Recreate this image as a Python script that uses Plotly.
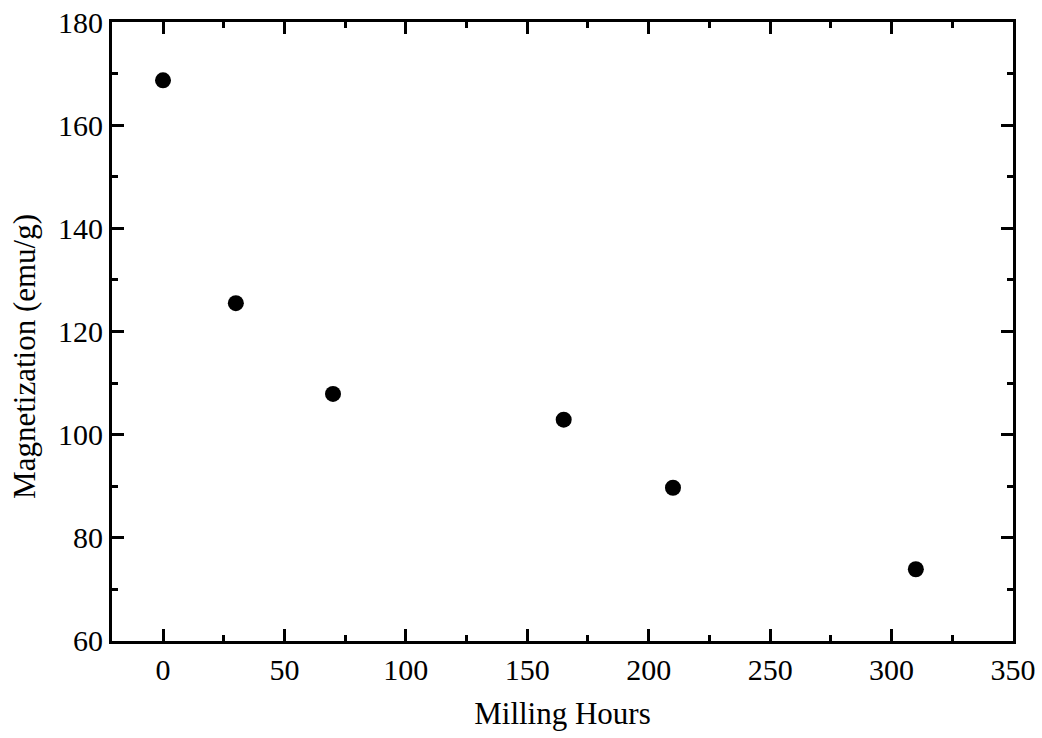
import plotly.graph_objects as go

milling_hours = [0, 30, 70, 165, 210, 310]
magnetization = [168.7, 125.5, 107.9, 102.9, 89.7, 73.9]

x_ticks = [0, 50, 100, 150, 200, 250, 300, 350]
y_ticks = [60, 80, 100, 120, 140, 160, 180]

x_title = "Milling Hours"
y_title = "Magnetization (emu/g)"

family = "Liberation Serif, Times New Roman, serif"
tick_font = dict(family=family, size=30, color="black")
title_font = dict(family=family, size=31, color="black")

fig = go.Figure()
fig.add_trace(go.Scatter(
    x=milling_hours, y=magnetization, mode="markers",
    marker=dict(color="black", size=16, line=dict(width=0)),
    showlegend=False, cliponaxis=False,
))

axis_common = dict(
    showline=True, linecolor="black", linewidth=3, mirror="allticks",
    ticks="inside", ticklen=12, tickwidth=2.5, tickcolor="black",
    showgrid=False, zeroline=False, tickfont=tick_font, automargin=False,
    minor=dict(ticks="inside", ticklen=6, tickwidth=2.5, tickcolor="black"),
)

fig.update_xaxes(
    range=[-21, 350.01], tickvals=x_ticks, ticktext=[str(v) for v in x_ticks],
    title=dict(text=x_title, font=title_font, standoff=18),
    **axis_common,
)
fig.update_xaxes(minor=dict(dtick=25, tick0=0))
fig.update_yaxes(
    range=[59.99, 180.01], tickvals=y_ticks, ticktext=[str(v) for v in y_ticks],
    **axis_common,
)
fig.update_yaxes(minor=dict(dtick=10, tick0=0))

fig.add_annotation(
    text=y_title, textangle=-90, font=title_font, showarrow=False,
    xref="paper", yref="paper", x=0, y=0.459, xanchor="center", yanchor="middle",
    xshift=-87,
)

fig.update_layout(
    width=1042, height=738,
    margin=dict(l=112, r=29, t=22, b=97),
    plot_bgcolor="white", paper_bgcolor="white",
    font=tick_font,
)

fig.write_html(
    "out.html",
    config={"displayModeBar": False},
    post_script="document.body.style.margin='0';document.body.style.overflow='hidden';",
)
